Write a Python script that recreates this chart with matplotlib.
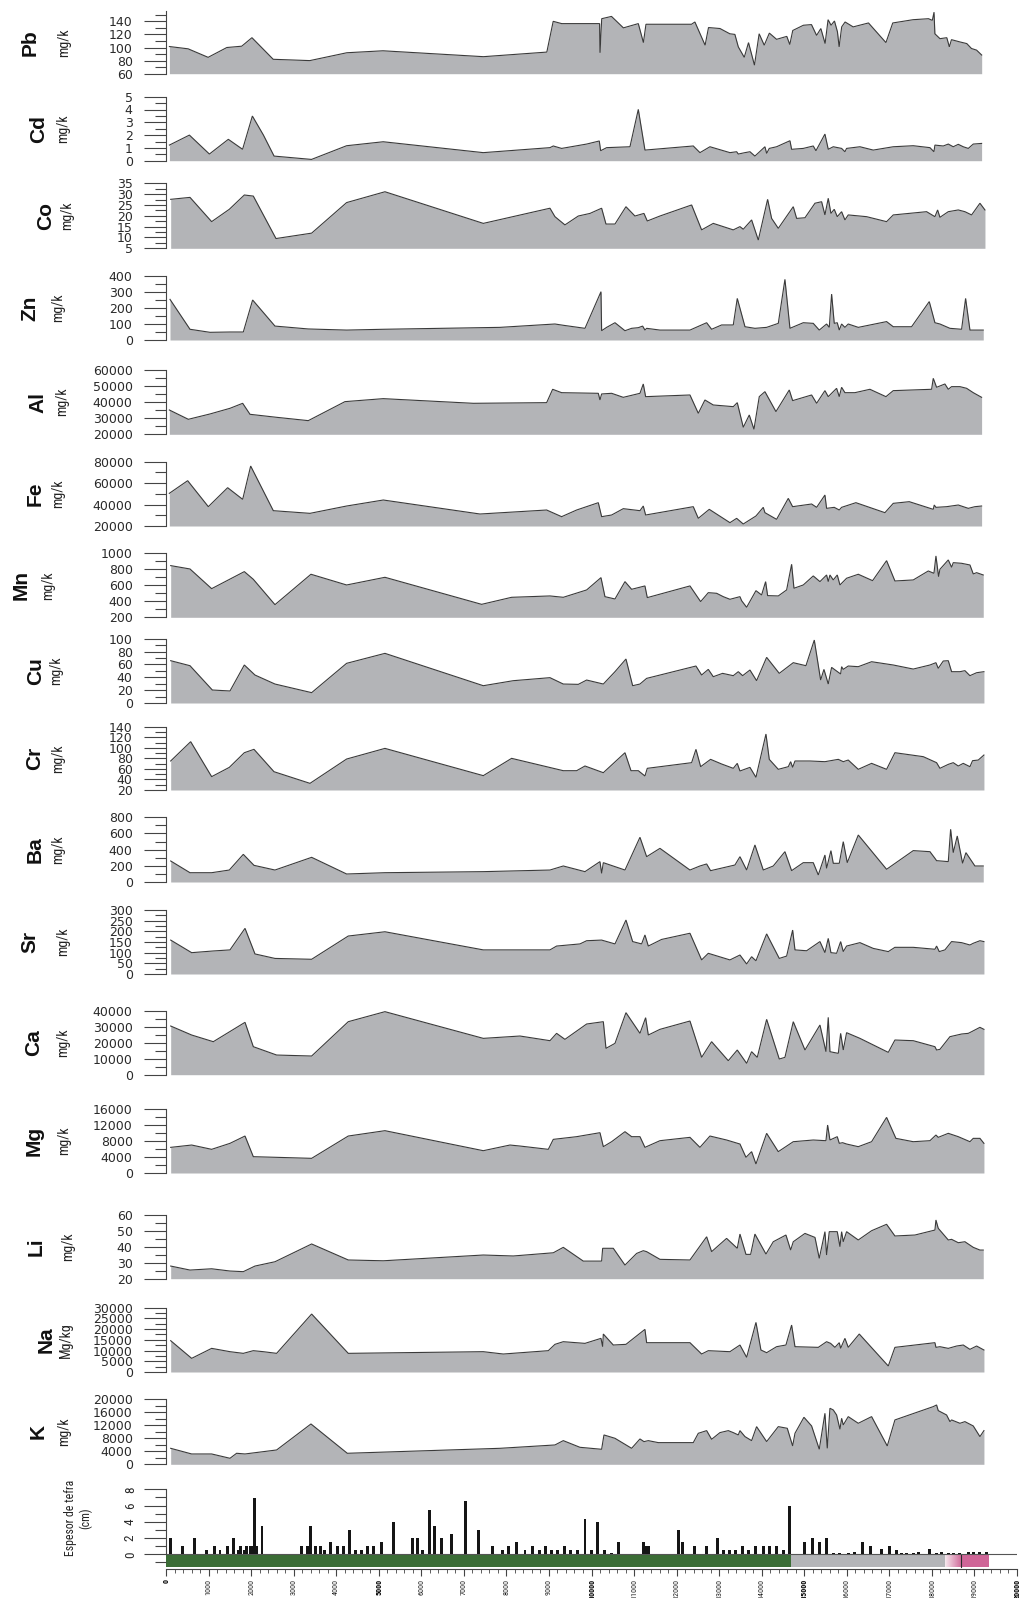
import numpy as np
import matplotlib
matplotlib.use("Agg")
import matplotlib.pyplot as plt
from matplotlib import font_manager
from matplotlib.ticker import MultipleLocator, FuncFormatter
from matplotlib.colors import LinearSegmentedColormap

# ---------------------------------------------------------------- data
# age (years) and concentration of each element along the core
pb_x = [80, 520, 990, 1430, 1780, 2020, 2520, 3380, 4250, 5100, 7460, 8950, 9100, 9300, 10190, 10200, 10240, 10470, 10750, 11100,
        11220, 11280, 12350, 12430, 12670, 12750, 13020, 13250, 13370, 13450, 13590, 13690, 13830, 13940, 14060, 14180, 14350, 14590, 14660, 14730,
        14980, 15170, 15290, 15390, 15490, 15560, 15630, 15710, 15780, 15820, 15880, 15960, 16150, 16510, 16920, 17080, 17560, 17920, 18010, 18050,
        18070, 18190, 18350, 18410, 18460, 18660, 18820, 18930, 19050, 19170]
pb_y = [101.5, 98, 85, 100, 102, 115, 82, 80, 92, 95, 86, 93, 140, 136.5, 136.5, 92, 144, 147.5, 130, 136.5,
        107.5, 135.5, 135.5, 139, 103.5, 130.5, 129, 121, 120, 101, 85, 107.5, 73, 121, 103.5, 122, 112.5, 117, 104.5, 126,
        134, 135, 118.5, 129, 106, 142.5, 134, 140.5, 124, 101, 131.5, 139, 131.5, 137.5, 107.5, 137.5, 142.5, 144, 141.5, 154,
        121, 113.5, 115, 101, 112, 108.5, 106, 98.5, 96, 88.5]

cd_x = [80, 550, 1020, 1465, 1800, 2030, 2290, 2540, 3420, 4245, 5105, 7457, 9024, 9102, 9298, 9886, 10183, 10215, 10356, 10904,
        11100, 11256, 12392, 12549, 12784, 13254, 13411, 13450, 13607, 13724, 13841, 14076, 14116, 14178, 14350, 14664, 14703, 14977, 15212, 15275,
        15486, 15564, 15682, 15878, 15956, 15995, 16309, 16622, 17092, 17562, 17954, 18048, 18071, 18267, 18385, 18502, 18620, 18737, 18855, 18972,
        19168]
cd_y = [1.22, 2.0, 0.52, 1.67, 0.89, 3.49, 2.0, 0.36, 0.10, 1.17, 1.48, 0.63, 1.02, 1.15, 0.96, 1.30, 1.54, 0.78, 1.02, 1.09,
        4.01, 0.83, 1.15, 0.63, 1.09, 0.63, 0.70, 0.52, 0.63, 0.70, 0.36, 1.09, 0.57, 0.96, 1.09, 1.56, 0.89, 0.96, 1.15, 0.78,
        2.08, 0.89, 1.09, 0.96, 0.70, 0.96, 1.09, 0.83, 1.09, 1.17, 1.02, 0.70, 1.22, 1.15, 1.30, 1.09, 1.28, 1.09, 0.96, 1.30,
        1.35]

co_x = [110, 564, 1073, 1488, 1841, 2052, 2585, 3423, 4245, 5146, 7457, 9024, 9141, 9376, 9690, 9964, 10238, 10340, 10552, 10810,
        11021, 11233, 11311, 11609, 12353, 12588, 12862, 13332, 13489, 13567, 13763, 13920, 14139, 14233, 14390, 14742, 14821, 15017, 15252, 15408,
        15486, 15564, 15627, 15705, 15776, 15878, 15956, 16034, 16465, 16935, 17092, 17875, 18071, 18134, 18189, 18385, 18620, 18776, 18933, 19129,
        19247]
co_y = [27.6, 28.5, 17.3, 23.0, 29.6, 29.1, 9.5, 12.0, 26.1, 31.1, 16.5, 23.5, 19.6, 15.8, 19.9, 21.1, 23.5, 16.2, 16.2, 24.2,
        19.9, 21.1, 17.6, 19.9, 25.0, 13.5, 16.5, 13.5, 15.0, 13.8, 18.1, 8.8, 27.6, 18.8, 14.2, 24.2, 18.8, 19.1, 25.8, 26.5,
        20.4, 28.1, 21.1, 23.0, 19.6, 21.9, 18.1, 20.4, 19.6, 17.3, 20.4, 21.9, 19.6, 22.7, 19.3, 21.9, 22.7, 21.9, 20.4, 25.8,
        22.7]

zn_x = [94, 564, 1034, 1504, 1817, 2036, 2561, 3344, 4245, 5107, 7849, 9141, 9337, 9847, 10223, 10238, 10356, 10552, 10787, 10943,
        11100, 11202, 11256, 11296, 11609, 12314, 12706, 12823, 13058, 13332, 13426, 13607, 13841, 14116, 14390, 14546, 14664, 14977, 15212, 15353,
        15525, 15588, 15643, 15705, 15776, 15823, 15878, 15956, 16034, 16270, 16935, 17092, 17523, 17938, 18071, 18189, 18424, 18698, 18792, 18894,
        19207]
zn_y = [254, 67, 48, 50, 50, 250, 87, 69, 62, 67, 79, 100, 92, 73, 302, 58, 79, 108, 58, 73,
        77, 87, 62, 73, 62, 62, 108, 67, 94, 94, 260, 83, 73, 79, 104, 379, 73, 108, 104, 62,
        100, 79, 287, 104, 108, 62, 100, 79, 100, 79, 115, 83, 83, 240, 108, 100, 73, 67, 260, 62,
        62]

al_x = [78, 525, 1034, 1504, 1802, 1974, 2600, 3344, 4206, 5107, 7222, 8946, 9087, 9298, 10160, 10199, 10238, 10473, 10747, 11139,
        11217, 11272, 12314, 12510, 12666, 12862, 13332, 13426, 13567, 13708, 13818, 13943, 14076, 14335, 14648, 14727, 15173, 15291, 15486, 15564,
        15760, 15823, 15878, 15956, 16191, 16544, 16920, 17092, 17993, 18032, 18110, 18306, 18385, 18463, 18659, 18816, 18972, 19168]
al_y = [35130, 29330, 32650, 36170, 39280, 32440, 30570, 28500, 40320, 42180, 39280, 39690, 48000, 45900, 45500, 41350, 45100, 45500, 43000, 45500,
        51300, 43420, 44460, 33060, 41350, 38240, 37200, 39690, 24350, 32020, 23110, 43420, 46530, 34100, 47570, 40940, 44460, 39280, 47160, 43420,
        48610, 43420, 49240, 45900, 45900, 48000, 43420, 47160, 48000, 54830, 49240, 51300, 48000, 49650, 49650, 48610, 45900, 43010]

fe_x = [78, 509, 995, 1449, 1802, 1990, 2522, 3384, 4245, 5107, 7379, 8946, 9298, 9651, 10160, 10238, 10473, 10747, 11139, 11217,
        11272, 12392, 12510, 12768, 13254, 13411, 13567, 13865, 14037, 14076, 14350, 14625, 14727, 15173, 15291, 15486, 15525, 15705, 15823, 15878,
        16214, 16896, 17092, 17468, 18032, 18055, 18095, 18345, 18620, 18855, 19011, 19168]
fe_y = [50470, 62280, 38030, 55750, 44870, 75960, 34300, 31810, 38650, 44250, 31190, 34920, 28710, 34920, 41760, 28710, 30260, 36170, 34300, 38650,
        30260, 38030, 27150, 35550, 23110, 27150, 21870, 29330, 37410, 32440, 26220, 45800, 38030, 40520, 37410, 48910, 36480, 37410, 34920, 37410,
        41760, 32440, 41140, 42700, 35550, 39590, 37410, 38030, 39590, 36480, 38030, 38650]

mn_x = [110, 564, 1073, 1841, 2052, 2561, 3407, 4245, 5146, 7418, 8123, 9024, 9337, 9886, 10223, 10316, 10552, 10787, 10943, 11256,
        11311, 12314, 12565, 12745, 12941, 13097, 13254, 13489, 13528, 13646, 13865, 13998, 14092, 14139, 14390, 14586, 14703, 14758, 14977, 15212,
        15369, 15525, 15564, 15604, 15682, 15776, 15839, 15995, 16270, 16606, 16935, 17131, 17562, 17915, 18048, 18095, 18157, 18189, 18385, 18463,
        18502, 18698, 18894, 18972, 19051, 19207]
mn_y = [846, 804, 558, 771, 675, 358, 738, 604, 700, 362, 450, 467, 450, 542, 696, 458, 429, 646, 550, 592,
        446, 592, 396, 508, 500, 458, 425, 458, 408, 325, 533, 479, 646, 471, 467, 542, 863, 563, 604, 717,
        646, 729, 646, 729, 667, 729, 604, 688, 738, 658, 908, 654, 667, 779, 750, 967, 708, 800, 917, 825,
        883, 875, 854, 742, 758, 729]

cu_x = [110, 564, 1089, 1504, 1841, 2091, 2561, 3423, 4245, 5146, 7457, 8162, 9024, 9337, 9690, 9886, 10278, 10552, 10810, 10967,
        11139, 11296, 12455, 12588, 12745, 12862, 13081, 13332, 13450, 13552, 13724, 13880, 14116, 14413, 14742, 15040, 15236, 15385, 15463, 15564,
        15643, 15855, 15878, 15917, 16034, 16270, 16583, 17092, 17562, 17954, 18095, 18149, 18267, 18385, 18463, 18659, 18776, 18894, 19051, 19223]
cu_y = [65.8, 58.0, 20.2, 18.7, 59.1, 43.5, 29.5, 16.1, 61.7, 77.2, 26.9, 34.7, 39.4, 29.5, 29.0, 35.7, 29.5, 48.7, 68.4, 26.9,
        29.5, 38.3, 57.5, 43.5, 52.3, 40.9, 46.1, 42.5, 48.7, 42.5, 51.3, 34.7, 71.0, 46.1, 62.7, 58.0, 97.9, 35.7, 52.3, 29.5,
        55.4, 45.1, 56.5, 52.3, 57.5, 56.5, 64.2, 59.1, 52.8, 59.1, 62.7, 53.9, 65.3, 65.8, 48.7, 48.7, 50.3, 42.5, 47.1, 48.7]

cr_x = [110, 580, 1073, 1488, 1841, 2068, 2538, 3384, 4245, 5146, 7457, 8123, 9337, 9651, 9847, 10278, 10787, 10928, 11100, 11256,
        11311, 12353, 12455, 12565, 12799, 13058, 13332, 13426, 13489, 13724, 13865, 14100, 14178, 14390, 14625, 14680, 14727, 14782, 15134, 15486,
        15800, 15917, 16034, 16270, 16583, 16935, 17131, 17797, 18110, 18189, 18385, 18502, 18620, 18737, 18894, 18956, 19090, 19223]
cr_y = [75.0, 111.6, 45.3, 62.9, 90.7, 97.1, 54.7, 32.6, 78.7, 98.9, 47.2, 80.0, 56.6, 56.6, 65.5, 52.8, 90.7, 56.6, 56.6, 46.5,
        61.1, 71.8, 97.1, 64.2, 78.1, 69.3, 61.1, 70.5, 56.0, 62.9, 44.0, 126.1, 78.1, 59.2, 64.2, 73.7, 62.9, 75.0, 75.0, 73.7,
        78.1, 73.7, 76.8, 59.2, 70.5, 59.2, 90.7, 83.2, 71.8, 61.1, 68.6, 71.8, 65.5, 70.5, 64.2, 75.6, 76.8, 86.3]

ba_x = [110, 564, 1073, 1488, 1817, 2068, 2561, 3423, 4245, 5146, 7457, 9024, 9337, 9847, 10199, 10238, 10278, 10787, 11139, 11296,
        11609, 12314, 12549, 12706, 12799, 13371, 13489, 13646, 13841, 14037, 14272, 14546, 14703, 14977, 15212, 15330, 15486, 15525, 15627, 15682,
        15823, 15917, 16011, 16270, 16935, 17562, 17954, 18071, 18110, 18385, 18440, 18502, 18596, 18721, 18800, 19011, 19207]
ba_y = [260, 115, 115, 148, 342, 206, 148, 305, 99, 115, 128, 148, 198, 128, 252, 107, 239, 148, 553, 313,
        416, 148, 198, 223, 140, 210, 313, 148, 458, 148, 198, 375, 140, 239, 239, 87, 334, 169, 388, 231,
        231, 499, 239, 581, 157, 388, 375, 293, 264, 252, 652, 363, 569, 231, 363, 198, 198]

sr_x = [110, 603, 1112, 1504, 1857, 2091, 2561, 3423, 4284, 5146, 7457, 9024, 9180, 9729, 9886, 10238, 10552, 10810, 10967, 11178,
        11256, 11335, 11648, 12314, 12588, 12745, 13254, 13489, 13646, 13763, 13865, 14116, 14413, 14586, 14727, 14782, 15056, 15369, 15486, 15564,
        15627, 15760, 15855, 15917, 15995, 16309, 16622, 16975, 17131, 17562, 18071, 18110, 18173, 18306, 18463, 18698, 18894, 18972, 19129, 19223]
sr_y = [159, 100, 108, 113, 214, 94, 73, 69, 178, 198, 113, 113, 131, 141, 156, 159, 141, 253, 152, 141,
        183, 131, 162, 191, 66, 97, 66, 89, 47, 81, 62, 188, 73, 84, 206, 113, 109, 152, 100, 167,
        100, 97, 152, 105, 131, 147, 120, 105, 125, 125, 116, 131, 105, 113, 152, 147, 136, 144, 156, 152]

ca_x = [110, 603, 1112, 1857, 2052, 2600, 3423, 4284, 5146, 7457, 8319, 9024, 9180, 9376, 9886, 10278, 10340, 10552, 10810, 11139,
        11272, 11335, 11609, 12314, 12588, 12823, 13215, 13426, 13646, 13763, 13896, 14116, 14413, 14546, 14742, 15017, 15369, 15510, 15564, 15604,
        15800, 15855, 15917, 15995, 16309, 16975, 17131, 17562, 18071, 18110, 18189, 18424, 18698, 18855, 18933, 19129, 19223]
ca_y = [30570, 24920, 20730, 32880, 17590, 12350, 11730, 33290, 39580, 22820, 24290, 21360, 25970, 22200, 31830, 33290, 16540, 19680, 38950, 25970,
        35810, 24920, 28480, 33710, 10890, 20730, 8790, 15500, 7120, 14450, 10890, 34760, 9840, 10890, 33290, 15500, 31200, 14450, 36020, 14450,
        13400, 25970, 15500, 26390, 22820, 14030, 21780, 21360, 17590, 15500, 15920, 23870, 25550, 25970, 27010, 29740, 28480]

mg_x = [110, 603, 1073, 1504, 1857, 2052, 2600, 3423, 4284, 5146, 7457, 8084, 8319, 8985, 9102, 9651, 10199, 10278, 10473, 10787,
        10943, 11139, 11256, 11609, 12314, 12549, 12784, 13175, 13489, 13630, 13763, 13865, 14116, 14390, 14742, 15212, 15510, 15549, 15604, 15776,
        15823, 15902, 15995, 16270, 16583, 16935, 17154, 17562, 17954, 18095, 18149, 18385, 18620, 18894, 18972, 19129, 19223]
mg_y = [6380, 6960, 5890, 7380, 9200, 4060, 3900, 3650, 9200, 10530, 5550, 6960, 6710, 5890, 8370, 9040, 10030, 6550, 7790, 10280,
        9040, 9040, 6380, 8040, 8870, 6380, 9200, 8210, 7210, 3900, 5310, 2240, 9870, 5310, 7790, 8210, 8040, 11940, 8210, 9040,
        7380, 7540, 7210, 6550, 7790, 13840, 8620, 7790, 8040, 9450, 8870, 9870, 9040, 7790, 8620, 8620, 7380]

li_x = [110, 564, 1073, 1504, 1817, 2091, 2561, 3423, 4284, 5107, 7457, 8162, 9102, 9337, 9807, 10238, 10262, 10512, 10787, 11061,
        11217, 11296, 11609, 12314, 12706, 12823, 13175, 13426, 13489, 13630, 13740, 13841, 14100, 14272, 14570, 14680, 14742, 15017, 15252, 15353,
        15486, 15525, 15588, 15776, 15839, 15878, 15917, 15995, 16270, 16583, 16935, 17131, 17601, 18071, 18095, 18149, 18385, 18463, 18620, 18776,
        18972, 19129, 19207]
li_y = [27.9, 25.4, 26.2, 24.8, 24.4, 27.9, 30.6, 41.7, 31.7, 31.2, 34.8, 34.2, 36.2, 39.6, 31.0, 31.0, 39.0, 39.0, 28.5, 35.8,
        37.5, 36.9, 32.1, 31.7, 46.2, 36.9, 45.2, 39.0, 47.9, 35.2, 35.2, 47.9, 35.4, 43.1, 47.3, 37.9, 43.1, 48.3, 45.8, 32.7,
        49.4, 34.8, 49.4, 49.4, 40.0, 49.4, 43.1, 49.4, 44.2, 50.0, 54.0, 46.7, 47.3, 50.4, 56.7, 51.5, 44.2, 44.6, 42.5, 43.1,
        39.6, 37.9, 37.9]

na_x = [110, 603, 1073, 1504, 1817, 2052, 2287, 2600, 3423, 4284, 7457, 7927, 8985, 9141, 9337, 9847, 10223, 10262, 10278, 10512,
        10810, 11256, 11296, 11609, 12314, 12588, 12745, 13254, 13489, 13646, 13865, 13982, 14116, 14350, 14570, 14703, 14782, 15330, 15525, 15619,
        15721, 15823, 15855, 15956, 16034, 16293, 16975, 17131, 18071, 18095, 18189, 18385, 18581, 18737, 18894, 19051, 19223]
na_y = [14610, 6370, 11030, 9480, 8700, 9950, 9480, 8700, 27040, 8700, 9480, 8390, 9950, 12900, 14140, 13360, 15700, 11810, 17720, 12590,
        12900, 19890, 13680, 13680, 13680, 8390, 9950, 9480, 12590, 6840, 23150, 10260, 9010, 11810, 12590, 21910, 11810, 11500, 14140, 13360,
        11500, 13680, 11030, 15700, 11500, 17720, 2800, 11500, 13680, 11500, 11810, 11030, 12120, 12590, 10570, 12120, 10260]

k_x = [110, 603, 1073, 1504, 1660, 1857, 2600, 3407, 4261, 7849, 9141, 9337, 9729, 10238, 10293, 10552, 10943, 11139, 11233, 11335,
       11570, 12392, 12510, 12706, 12823, 13019, 13215, 13332, 13450, 13489, 13607, 13763, 13880, 14116, 14390, 14601, 14727, 14782, 14993, 15173,
       15353, 15486, 15541, 15604, 15682, 15760, 15839, 15878, 15917, 16034, 16270, 16583, 16951, 17131, 18032, 18110, 18149, 18345, 18424, 18463,
       18659, 18776, 18972, 19129, 19223]
k_y = [4920, 3180, 3180, 1850, 3390, 3180, 4410, 12410, 3390, 4920, 5950, 7280, 5230, 4620, 9030, 8000, 4920, 7800, 6980, 7280,
       6670, 6670, 9540, 10360, 7690, 9750, 10360, 9750, 9030, 10360, 8520, 7280, 11590, 6980, 11590, 11080, 5640, 9540, 14470, 11800,
       4620, 15700, 4920, 17240, 16720, 15180, 10770, 14160, 12110, 14670, 12620, 14670, 5640, 13650, 17750, 18260, 16520, 15180, 13130, 13650,
       12620, 13130, 11800, 8520, 10360]

# tephra layers: age and thickness (cm)
tefra_x = [117, 391, 666, 948, 1151, 1269, 1449, 1582, 1700, 1754, 1833, 1895, 1974, 2036, 2075, 2130, 2256, 3188, 3321, 3399,
           3525, 3635, 3736, 3870, 4034, 4183, 4324, 4465, 4598, 4731, 4872, 5068, 5342, 5788, 5914, 6031, 6188, 6321, 6478, 6720,
           7050, 7339, 7676, 7900, 8056, 8248, 8437, 8617, 8774, 8922, 9063, 9204, 9361, 9517, 9666, 9847, 10003, 10144, 10316, 10473,
           10645, 11217, 11280, 11335, 12040, 12134, 12416, 12706, 12964, 13113, 13254, 13395, 13544, 13685, 13865, 14037, 14194, 14350, 14507, 14664,
           15017, 15189, 15353, 15526, 15682, 15839, 16034, 16191, 16371, 16559, 16818, 16998, 17170, 17288, 17406, 17562, 17680, 17938, 18110, 18228,
           18385, 18502, 18659, 18855, 18972, 19129, 19286]
tefra_cm = [2.0, 1.0, 2.0, 0.5, 1.0, 0.5, 1.0, 2.0, 0.5, 1.0, 0.5, 1.0, 1.0, 1.0, 6.9, 1.0, 3.5, 1.0, 1.0, 3.5,
            1.0, 1.0, 0.5, 1.5, 1.0, 1.0, 3.0, 0.5, 0.5, 1.0, 1.0, 1.5, 4.0, 2.0, 2.0, 0.5, 5.5, 3.5, 2.0, 2.5,
            6.5, 3.0, 1.0, 0.5, 1.0, 1.5, 0.5, 1.0, 0.5, 1.0, 0.5, 0.5, 1.0, 0.5, 0.5, 4.4, 0.5, 4.0, 0.5, 0.2,
            1.5, 1.5, 1.0, 1.0, 3.0, 1.5, 1.0, 1.0, 2.0, 0.5, 0.5, 0.5, 1.0, 0.5, 1.0, 1.0, 1.0, 1.0, 0.5, 5.9,
            1.5, 2.0, 1.5, 2.0, 0.2, 0.2, 0.2, 0.3, 1.5, 1.0, 0.7, 1.0, 0.5, 0.2, 0.2, 0.2, 0.3, 0.7, 0.2, 0.3,
            0.2, 0.2, 0.2, 0.3, 0.3, 0.3, 0.3]

# stratigraphic units under the tephra record (boundaries in years)
zonas = [0, 14700, 18300, 18680, 19350]

x_ticks = list(range(0, 20001, 1000))
bold_ticks = [0, 5000, 10000, 15000, 20000]

# ---------------------------------------------------------------- style
W, H = 1027, 1598
FILL = "#b3b4b7"
EDGE = "#3a3a3a"
AXC = "#444444"
GREEN = "#3b6d36"
GREY = "#b4b5b8"
PINK = "#cf6597"

available = {f.name for f in font_manager.fontManager.ttflist}


def pick(*names):
    for n in names:
        if n in available:
            return n
    return "DejaVu Sans"


NARROW = pick("Liberation Sans Narrow", "Roboto Condensed", "Liberation Sans")
NAME_FONT = pick("Liberation Sans Narrow", "Liberation Sans")
plt.rcParams["font.family"] = "DejaVu Sans"

X_LEFT_PX, X_RIGHT_PX = 166, 1017

fig = plt.figure(figsize=(W / 100, H / 100), dpi=100)
fig.patch.set_facecolor("white")


def add_axes_px(top, bottom):
    return fig.add_axes([X_LEFT_PX / W, 1 - bottom / H,
                         (X_RIGHT_PX - X_LEFT_PX) / W, (bottom - top) / H])


int_fmt = FuncFormatter(lambda v, p: f"{v:g}")

# name, unit, x, y, y-range, major, minor, top px, bottom px, name x px, unit x px
panels = [
    ("Pb", "mg/k", pb_x, pb_y, (60, 155), 20, 10, 11.5, 73.7, 30, 64),
    ("Cd", "mg/k", cd_x, cd_y, (0, 5), 1, 0.5, 96.7, 160.7, 39, 63),
    ("Co", "mg/k", co_x, co_y, (5, 35), 5, 2.5, 183.3, 248.3, 46, 67),
    ("Zn", "mg/k", zn_x, zn_y, (0, 400), 100, 50, 276, 340, 30, 58),
    ("Al", "mg/k", al_x, al_y, (20000, 60000), 10000, 5000, 370, 434.3, 38, 62),
    ("Fe", "mg/k", fe_x, fe_y, (20000, 80000), 20000, 10000, 461.7, 526, 35, 58),
    ("Mn", "mg/k", mn_x, mn_y, (200, 1000), 200, 100, 553.3, 617.3, 21, 48),
    ("Cu", "mg/k", cu_x, cu_y, (0, 100), 20, 10, 638.7, 703, 36, 56),
    ("Cr", "mg/k", cr_x, cr_y, (20, 140), 20, 10, 726.7, 790, 35, 58),
    ("Ba", "mg/k", ba_x, ba_y, (0, 800), 200, 100, 817.3, 882, 35, 58),
    ("Sr", "mg/k", sr_x, sr_y, (0, 300), 50, 25, 910, 974, 30, 63),
    ("Ca", "mg/k", ca_x, ca_y, (0, 40000), 10000, 5000, 1011, 1074.7, 34, 63),
    ("Mg", "mg/k", mg_x, mg_y, (0, 16000), 4000, 2000, 1108.7, 1173, 34, 64),
    ("Li", "mg/k", li_x, li_y, (20, 60), 10, 5, 1214.7, 1278.7, 36, 68),
    ("Na", "Mg/kg", na_x, na_y, (0, 30000), 5000, 2500, 1307.7, 1372, 46, 66),
    ("K", "mg/k", k_x, k_y, (0, 20000), 4000, 2000, 1399.3, 1464.3, 38, 64),
]

for name, unit, xs, ys, ylim, major, minor, top, bottom, nx, ux in panels:
    ax = add_axes_px(top, bottom)
    ax.set_facecolor("none")
    ax.fill_between(xs, ys, ylim[0], color=FILL, lw=0, zorder=1)
    ax.plot(xs, ys, color=EDGE, lw=0.8, zorder=2, solid_joinstyle="miter")
    ax.set_xlim(0, 20000)
    ax.set_ylim(*ylim)
    for s in ("top", "right", "bottom"):
        ax.spines[s].set_visible(False)
    ax.spines["left"].set_color(AXC)
    ax.spines["left"].set_linewidth(0.8)
    ax.xaxis.set_visible(False)
    ax.yaxis.set_major_locator(MultipleLocator(major))
    ax.yaxis.set_minor_locator(MultipleLocator(minor))
    ax.yaxis.set_major_formatter(int_fmt)
    ax.tick_params(axis="y", which="major", length=16, width=0.8, color=AXC,
                   pad=8, labelsize=9, labelcolor="#2a2a2a")
    ax.tick_params(axis="y", which="minor", length=8, width=0.8, color=AXC)
    cy = 1 - (top + bottom) / 2 / H
    fig.text(nx / W, cy, name, rotation=90, ha="center", va="center",
             fontsize=15, fontweight="bold", family=NAME_FONT, color="#111111")
    fig.text(ux / W, cy, unit, rotation=90, ha="center", va="center",
             fontsize=10, family=NARROW, color="#222222")

# ---------------------------------------------------------------- tephra panel
axb = add_axes_px(1489.3, 1568.9)
axb.set_facecolor("none")
band = (-1.6, 0)
axb.add_patch(plt.Rectangle((zonas[0], band[0]), zonas[1] - zonas[0], band[1] - band[0],
                            facecolor=GREEN, edgecolor="none", zorder=1))
axb.add_patch(plt.Rectangle((zonas[1], band[0]), zonas[2] - zonas[1], band[1] - band[0],
                            facecolor=GREY, edgecolor="none", zorder=1))
fade = LinearSegmentedColormap.from_list("tephra_fade", ["#f6e9ee", PINK])
axb.imshow(np.linspace(0, 1, 256).reshape(1, -1), extent=(zonas[2], zonas[3], band[0], band[1]),
           aspect="auto", cmap=fade, zorder=1, interpolation="bilinear")
axb.add_patch(plt.Rectangle((zonas[3], band[0]), zonas[4] - zonas[3], band[1] - band[0],
                            facecolor=PINK, edgecolor="none", zorder=1))
axb.plot([zonas[3], zonas[3]], list(band), color="#2a2a2a", lw=0.8, zorder=2)
axb.axhline(0, color="#555555", lw=0.8, zorder=2)
axb.bar(tefra_x, tefra_cm, width=70, color="#151515", zorder=3)

axb.set_xlim(0, 20000)
axb.set_ylim(-1.8, 8)
for s in ("top", "right"):
    axb.spines[s].set_visible(False)
axb.spines["left"].set_bounds(0, 8)
for s in ("left", "bottom"):
    axb.spines[s].set_color(AXC)
    axb.spines[s].set_linewidth(0.8)

axb.yaxis.set_major_locator(MultipleLocator(2))
axb.yaxis.set_minor_locator(MultipleLocator(1))
axb.yaxis.set_major_formatter(int_fmt)
axb.tick_params(axis="y", which="major", length=16, width=0.8, color=AXC, pad=5,
                labelsize=9.5, labelrotation=90, labelcolor="#2a2a2a")
axb.tick_params(axis="y", which="minor", length=8, width=0.8, color=AXC)
for lab in axb.get_yticklabels():
    lab.set_family(NARROW)
    lab.set_va("center")

axb.set_xticks(x_ticks, labels=[str(t) for t in x_ticks])
axb.xaxis.set_minor_locator(MultipleLocator(200))
axb.tick_params(axis="x", which="major", length=5, width=0.8, color=AXC, pad=2,
                labelsize=5.8, labelrotation=90, labelcolor="#222222")
axb.tick_params(axis="x", which="minor", length=3, width=0.6, color=AXC)
for lab, t in zip(axb.get_xticklabels(), x_ticks):
    lab.set_family(NARROW)
    if t in bold_ticks:
        lab.set_fontweight("bold")
        lab.set_color("#000000")

fig.text(78 / W, 1 - 1518 / H, "Espesor de tefra\n(cm)", rotation=90, ha="center", va="center",
         multialignment="center", fontsize=8.5, family=NARROW, color="#222222", linespacing=1.15)

fig.savefig("out.png", dpi=100, facecolor="white")
